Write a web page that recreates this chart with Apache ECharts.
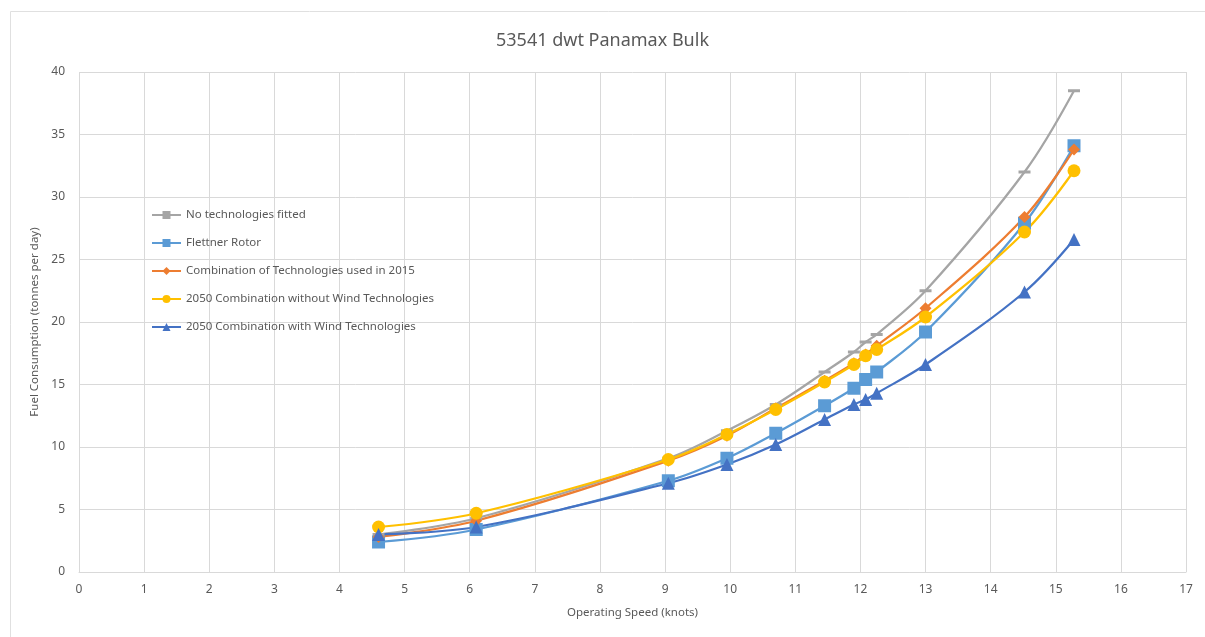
<!DOCTYPE html>
<html>
<head>
<meta charset="utf-8">
<script src="https://cdn.jsdelivr.net/npm/echarts@6/dist/echarts.min.js"></script>
<style>
  html, body { margin: 0; padding: 0; background: #fff; }
  #chart { width: 1205px; height: 637px; }
</style>
</head>
<body>
<div id="chart"></div>
<script>
// Operating speeds (knots) at which fuel use was evaluated
const speeds = [4.6, 6.1, 9.05, 9.95, 10.7, 11.45, 11.9, 12.08, 12.25, 13.0, 14.52, 15.28];

// Fuel consumption (tonnes per day) for each configuration
const noTech      = [3.0, 4.3, 9.1, 11.3, 13.4, 16.0, 17.6, 18.4, 19.0, 22.5, 32.0, 38.5];
const flettner    = [2.4, 3.4, 7.3, 9.1, 11.1, 13.3, 14.7, 15.4, 16.0, 19.2, 27.9, 34.1];
const combo2015   = [2.8, 4.1, 8.9, 10.9, 13.1, 15.3, 16.7, 17.4, 18.1, 21.1, 28.4, 33.8];
const noWind2050  = [3.6, 4.7, 9.0, 11.0, 13.0, 15.2, 16.6, 17.3, 17.8, 20.4, 27.2, 32.1];
const wind2050    = [3.0, 3.6, 7.1, 8.6, 10.2, 12.2, 13.4, 13.8, 14.3, 16.6, 22.4, 26.6];

const seriesNames = [
  'No technologies fitted',
  'Flettner Rotor',
  'Combination of Technologies used in 2015',
  '2050 Combination without Wind Technologies',
  '2050 Combination with Wind Technologies'
];

const pair = (ys) => speeds.map((x, i) => [x, ys[i]]);

const textColor = '#595959';
const fontFamily = "'Noto Sans', sans-serif";

function lineSeries(name, ys, color, symbol, symbolSize) {
  return {
    name: name,
    type: 'line',
    smooth: 0.35,
    data: pair(ys),
    symbol: symbol,
    symbolSize: symbolSize,
    lineStyle: { color: color, width: 2.25 },
    itemStyle: { color: color },
    emphasis: { disabled: true }
  };
}

const chart = echarts.init(document.getElementById('chart'), null, { renderer: 'canvas' });

chart.setOption({
  animation: false,
  backgroundColor: '#fff',
  textStyle: { fontFamily: fontFamily, color: textColor },
  // light frame around the chart area
  graphic: [{
    type: 'rect',
    left: 8,
    top: 9,
    shape: { width: 1220, height: 650 },
    style: { fill: 'none', stroke: '#E0E0E0', lineWidth: 1 },
    silent: true,
    z: -1
  }],
  title: {
    text: '53541 dwt Panamax Bulk',
    left: 'center',
    top: 27,
    textStyle: { fontFamily: fontFamily, fontSize: 18, fontWeight: 'normal', color: textColor }
  },
  grid: { left: 79, right: 19, top: 72, bottom: 65, containLabel: false },
  legend: {
    orient: 'vertical',
    left: 151,
    top: 209,
    padding: 0,
    itemWidth: 29,
    itemHeight: 10,
    itemGap: 16,
    textStyle: { fontFamily: fontFamily, fontSize: 11.5, color: textColor },
    data: seriesNames
  },
  xAxis: {
    type: 'value',
    min: 0,
    max: 17,
    interval: 1,
    name: 'Operating Speed (knots)',
    nameLocation: 'middle',
    nameGap: 35,
    nameTextStyle: { fontFamily: fontFamily, fontSize: 11.5, color: textColor },
    axisLine: { show: true, lineStyle: { color: '#D9D9D9', width: 1 } },
    axisTick: { show: false },
    axisLabel: { fontFamily: fontFamily, fontSize: 12, color: textColor, margin: 12 },
    splitLine: { show: true, lineStyle: { color: '#D9D9D9', width: 1 } }
  },
  yAxis: {
    type: 'value',
    min: 0,
    max: 40,
    interval: 5,
    name: 'Fuel Consumption (tonnes per day)',
    nameLocation: 'middle',
    nameGap: 34,
    nameTextStyle: { fontFamily: fontFamily, fontSize: 11.5, color: textColor },
    axisLine: { show: false },
    axisTick: { show: false },
    axisLabel: { fontFamily: fontFamily, fontSize: 12, color: textColor, margin: 14 },
    splitLine: { show: true, lineStyle: { color: '#D9D9D9', width: 1 } }
  },
  series: [
    lineSeries(seriesNames[0], noTech, '#A5A5A5', 'rect', [12, 3]),
    lineSeries(seriesNames[1], flettner, '#5B9BD5', 'rect', 13),
    lineSeries(seriesNames[2], combo2015, '#ED7D31', 'diamond', 12),
    lineSeries(seriesNames[3], noWind2050, '#FFC000', 'circle', 13),
    lineSeries(seriesNames[4], wind2050, '#4472C4', 'triangle', 13)
  ]
});
</script>
</body>
</html>
